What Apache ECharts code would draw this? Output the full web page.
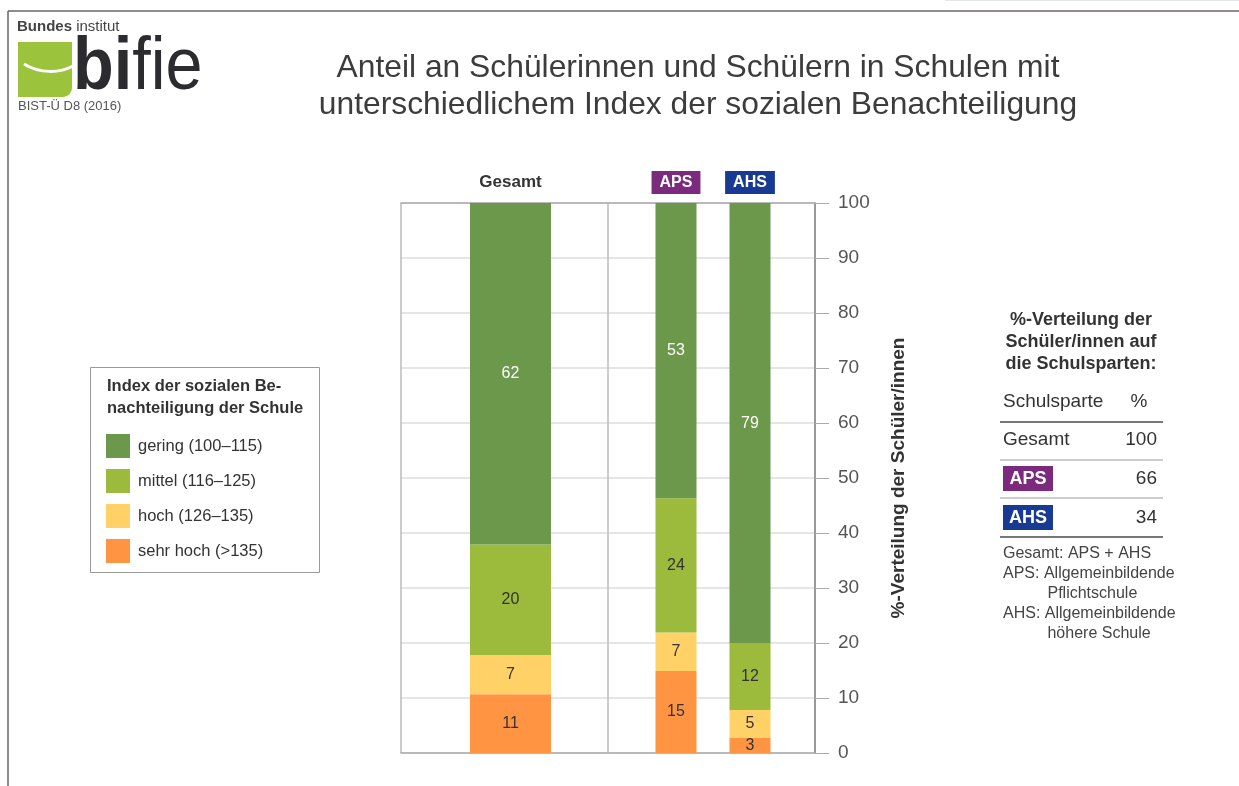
<!DOCTYPE html>
<html>
<head>
<meta charset="utf-8">
<script src="https://cdn.jsdelivr.net/npm/echarts@6/dist/echarts.min.js"></script>
<style>
  html, body { margin: 0; padding: 0; background: #fff; }
  #main { width: 1239px; height: 786px; }
</style>
</head>
<body>
<div id="main"></div>
<script>
//---------Daten------------
var categories = ['Gesamt', 'APS', 'AHS'];
var levelNames = ['gering (100–115)', 'mittel (116–125)', 'hoch (126–135)', 'sehr hoch (>135)'];
var levelColors = ['#6b984a', '#9cba3b', '#ffd167', '#ff9442'];
// Segmenthöhen wie im Bild gezeichnet (Prozent)
var geringHeights = [62.1, 53.7, 80.1];
var mittelHeights = [20.1, 24.4, 12.1];
var hochHeights = [7.1, 7.0, 5.0];
var sehrHochHeights = [10.7, 14.9, 2.8];
// gedruckte Werte
var geringLabels = [62, 53, 79];
var mittelLabels = [20, 24, 12];
var hochLabels = [7, 7, 5];
var sehrHochLabels = [11, 15, 3];
var yTicks = [0, 10, 20, 30, 40, 50, 60, 70, 80, 90, 100];
// Tabelle rechts
var shareNames = ['Gesamt', 'APS', 'AHS'];
var shareValues = [100, 66, 34];
var spartenColors = { APS: '#7b2a7e', AHS: '#183a92' };

var FONT = '"Liberation Sans", Arial, Helvetica, sans-serif';

//---------Serien------------
// von unten nach oben gestapelt
var stackOrder = [
    { name: levelNames[3], color: levelColors[3], h: sehrHochHeights, l: sehrHochLabels, txt: '#333' },
    { name: levelNames[2], color: levelColors[2], h: hochHeights, l: hochLabels, txt: '#333' },
    { name: levelNames[1], color: levelColors[1], h: mittelHeights, l: mittelLabels, txt: '#333' },
    { name: levelNames[0], color: levelColors[0], h: geringHeights, l: geringLabels, txt: '#fff' }
];
var series = [];
stackOrder.forEach(function (s) {
    // Gesamt
    series.push({
        name: s.name, type: 'bar', stack: 'g', xAxisIndex: 1, yAxisIndex: 1,
        barWidth: 81,
        itemStyle: { color: s.color },
        label: {
            show: true, position: 'inside', color: s.txt, fontSize: 16, fontFamily: FONT,
            formatter: function (p) { return s.l[0]; }
        },
        data: [s.h[0]]
    });
    // APS / AHS
    series.push({
        name: s.name, type: 'bar', stack: 's', xAxisIndex: 2, yAxisIndex: 2,
        barWidth: 41,
        itemStyle: { color: s.color },
        label: {
            show: true, position: 'inside', color: s.txt, fontSize: 16, fontFamily: FONT,
            formatter: function (p) { return s.l[p.dataIndex + 1]; }
        },
        data: [s.h[1], s.h[2]]
    });
});

//---------Grafik: Logo, Titel, Legendenrahmen, Tabelle------------
var graphics = [
    // Rahmen des Screenshots
    { type: 'line', shape: { x1: 8, y1: 11, x2: 1239, y2: 11 }, style: { stroke: '#666', lineWidth: 1.5 } },
    { type: 'line', shape: { x1: 8, y1: 11, x2: 8, y2: 786 }, style: { stroke: '#666', lineWidth: 1.5 } },
    { type: 'line', shape: { x1: 945, y1: 0.5, x2: 1239, y2: 0.5 }, style: { stroke: '#e3e6ea', lineWidth: 1 } },
    // Logo
    { type: 'text', style: { text: '{b|Bundes}{n| institut}', x: 17, y: 27, verticalAlign: 'middle', fill: '#444',
        rich: { b: { font: 'bold 15px ' + FONT, fill: '#444' }, n: { font: '15px ' + FONT, fill: '#444' } } } },
    { type: 'rect', shape: { x: 18, y: 42, width: 54, height: 55, r: [0, 0, 9, 0] }, style: { fill: '#9cc33c' } },
    { type: 'bezierCurve', shape: { x1: 24, y1: 64, cpx1: 40, cpy1: 74, cpx2: 60, cpy2: 73, x2: 73, y2: 66 },
        style: { stroke: '#fff', lineWidth: 3, fill: null } },
    { type: 'text', x: 73, y: 69, scaleX: 0.9, originX: 0,
        style: { text: '{b|bi}{f|fie}', x: 0, y: 0, verticalAlign: 'middle',
        rich: { b: { font: 'bold 74px ' + FONT, fill: '#2c2c30' }, f: { font: '74px ' + FONT, fill: '#2c2c30' } } } },
    { type: 'text', style: { text: 'BIST-Ü D8 (2016)', x: 18, y: 106, verticalAlign: 'middle', font: '13px ' + FONT, fill: '#555' } },
    // Titel
    { type: 'text', style: { text: 'Anteil an Schülerinnen und Schülern in Schulen mit', x: 698, y: 68,
        align: 'center', verticalAlign: 'middle', font: '31.8px ' + FONT, fill: '#3c3c3c' } },
    { type: 'text', style: { text: 'unterschiedlichem Index der sozialen Benachteiligung', x: 698, y: 105,
        align: 'center', verticalAlign: 'middle', font: '31.8px ' + FONT, fill: '#3c3c3c' } },
    // Legendenrahmen
    { type: 'rect', shape: { x: 90.5, y: 367.5, width: 229, height: 205 }, style: { fill: null, stroke: '#999', lineWidth: 1 } },
    { type: 'text', style: { text: 'Index der sozialen Be-', x: 107, y: 386, verticalAlign: 'middle', font: 'bold 16.5px ' + FONT, fill: '#333' } },
    { type: 'text', style: { text: 'nachteiligung der Schule', x: 107, y: 408, verticalAlign: 'middle', font: 'bold 16.5px ' + FONT, fill: '#333' } },
    // Tabelle
    { type: 'text', style: { text: '%-Verteilung der\nSchüler/innen auf\ndie Schulsparten:', x: 1081, y: 342,
        align: 'center', verticalAlign: 'middle', lineHeight: 22, font: 'bold 18px ' + FONT, fill: '#333' } },
    { type: 'text', style: { text: 'Schulsparte', x: 1003, y: 402, verticalAlign: 'middle', font: '19px ' + FONT, fill: '#333' } },
    { type: 'text', style: { text: '%', x: 1139, y: 402, align: 'center', verticalAlign: 'middle', font: '19px ' + FONT, fill: '#333' } },
    { type: 'line', shape: { x1: 1000, y1: 422, x2: 1163, y2: 422 }, style: { stroke: '#777', lineWidth: 2 } },
    { type: 'line', shape: { x1: 1000, y1: 460, x2: 1163, y2: 460 }, style: { stroke: '#bbb', lineWidth: 1.5 } },
    { type: 'line', shape: { x1: 1000, y1: 498, x2: 1163, y2: 498 }, style: { stroke: '#bbb', lineWidth: 1.5 } },
    { type: 'line', shape: { x1: 1000, y1: 537, x2: 1163, y2: 537 }, style: { stroke: '#777', lineWidth: 2 } },
    { type: 'text', style: { text: 'Gesamt: APS + AHS\nAPS: Allgemeinbildende\n          Pflichtschule\nAHS: Allgemeinbildende\n          höhere Schule',
        x: 1003, y: 544, verticalAlign: 'top', lineHeight: 20, font: '16px ' + FONT, fill: '#444' } }
];
var rowY = [440, 479, 518];
shareNames.forEach(function (n, i) {
    if (spartenColors[n]) {
        graphics.push({ type: 'rect', shape: { x: 1003, y: rowY[i] - 13, width: 50, height: 25 }, style: { fill: spartenColors[n] } });
        graphics.push({ type: 'text', style: { text: n, x: 1028, y: rowY[i], align: 'center', verticalAlign: 'middle',
            font: 'bold 18px ' + FONT, fill: '#fff' } });
    } else {
        graphics.push({ type: 'text', style: { text: n, x: 1003, y: rowY[i], verticalAlign: 'middle', font: '19px ' + FONT, fill: '#333' } });
    }
    graphics.push({ type: 'text', style: { text: String(shareValues[i]), x: 1157, y: rowY[i], align: 'right', verticalAlign: 'middle',
        font: '19px ' + FONT, fill: '#333' } });
});

var option = {
    animation: false,
    backgroundColor: '#fff',
    textStyle: { fontFamily: FONT },
    legend: {
        orient: 'vertical',
        left: 106, top: 434,
        padding: 0,
        itemWidth: 24, itemHeight: 24, itemGap: 11,
        icon: 'rect',
        data: levelNames,
        selectedMode: false,
        textStyle: { fontSize: 16.5, color: '#333', fontFamily: FONT, padding: [0, 0, 0, 3] }
    },
    grid: [
        { left: 401, top: 203, width: 414, height: 550 },
        { left: 470, top: 203, width: 81, height: 550 },
        { left: 639, top: 203, width: 148, height: 550 }
    ],
    xAxis: [
        {
            gridIndex: 0, type: 'value', min: 0, max: 2, interval: 1,
            axisLine: { show: true, onZero: false, lineStyle: { color: '#aaa', width: 1.5 } },
            axisTick: { show: false }, axisLabel: { show: false },
            splitLine: { show: true, lineStyle: { color: '#bbb', width: 1.5 } }
        },
        {
            gridIndex: 1, type: 'category', position: 'top', data: [categories[0]],
            axisLine: { show: false }, axisTick: { show: false },
            axisLabel: { interval: 0, margin: 12, fontSize: 17, fontWeight: 'bold', color: '#333', fontFamily: FONT }
        },
        {
            gridIndex: 2, type: 'category', position: 'top', data: categories.slice(1),
            axisLine: { show: false }, axisTick: { show: false },
            axisLabel: {
                interval: 0, hideOverlap: false,
                margin: 9,
                formatter: function (v) { return '{' + v + '|' + v + '}'; },
                rich: {
                    APS: { backgroundColor: spartenColors.APS, color: '#fff', fontWeight: 'bold', fontSize: 16, fontFamily: FONT, padding: [4, 8, 3, 8] },
                    AHS: { backgroundColor: spartenColors.AHS, color: '#fff', fontWeight: 'bold', fontSize: 16, fontFamily: FONT, padding: [4, 8, 3, 8] }
                }
            }
        },
        {
            // obere Rahmenlinie
            gridIndex: 0, type: 'value', position: 'top', min: 0, max: 2,
            axisLine: { show: true, onZero: false, lineStyle: { color: '#aaa', width: 1.5 } },
            axisTick: { show: false }, axisLabel: { show: false }, splitLine: { show: false }
        }
    ],
    yAxis: [
        {
            gridIndex: 0, type: 'value', position: 'right',
            min: yTicks[0], max: yTicks[yTicks.length - 1], interval: 10,
            name: '%-Verteilung der Schüler/innen',
            nameLocation: 'middle', nameRotate: 90, nameGap: 74,
            nameTextStyle: { fontSize: 19, fontWeight: 'bold', color: '#333', fontFamily: FONT },
            axisLine: { show: true, onZero: false, lineStyle: { color: '#888', width: 1.5 } },
            axisTick: { show: true, length: 14, lineStyle: { color: '#aaa' } },
            axisLabel: { margin: 23, fontSize: 19, color: '#555', fontFamily: FONT },
            splitLine: { show: true, lineStyle: { color: '#ddd', width: 1.5 } }
        },
        { gridIndex: 1, type: 'value', min: 0, max: 100, show: false },
        { gridIndex: 2, type: 'value', min: 0, max: 100, show: false }
    ],
    graphic: graphics,
    series: series
};

var myChart = echarts.init(document.getElementById('main'));
myChart.setOption(option);
</script>
</body>
</html>
